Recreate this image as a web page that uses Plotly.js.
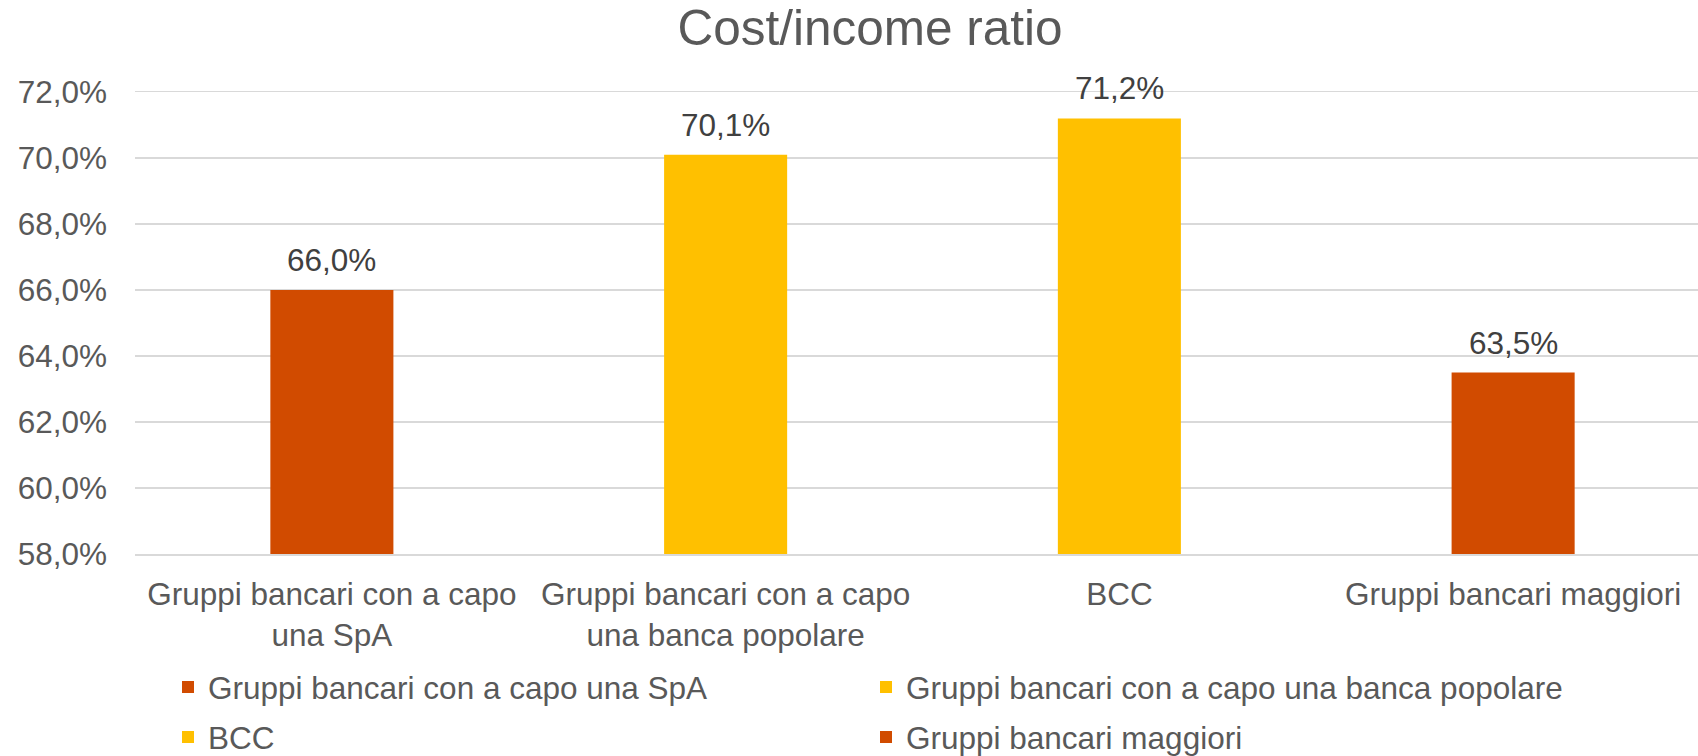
<!DOCTYPE html>
<html>
<head>
<meta charset="utf-8">
<script src="https://cdn.plot.ly/plotly-3.0.1.min.js"></script>
<style>
html, body { margin: 0; padding: 0; overflow: hidden; background: #ffffff; }
#chart { width: 1740px; height: 756px; }
</style>
</head>
<body>
<div id="chart"></div>
<script>
// Data
const categories = [
  "Gruppi bancari con a capo una SpA",
  "Gruppi bancari con a capo una banca popolare",
  "BCC",
  "Gruppi bancari maggiori"
];
const tickLabels = [
  "Gruppi bancari con a capo<br>una SpA",
  "Gruppi bancari con a capo<br>una banca popolare",
  "BCC",
  "Gruppi bancari maggiori"
];
const values = [0.660, 0.701, 0.712, 0.635];
const barColors = ["#D14B00", "#FFC000", "#FFC000", "#D14B00"];
const legendRow = ["legend", "legend", "legend2", "legend2"];

const FONT = "Liberation Sans, Arial, sans-serif";

const traces = categories.map((c, i) => ({
  type: "bar",
  x: [c],
  y: [values[i]],
  name: c,
  legend: legendRow[i],
  width: 0.3125,
  marker: { color: barColors[i], line: { width: 0 } },
  hoverinfo: "skip"
}));

const annotations = categories.map((c, i) => ({
  x: c,
  y: values[i],
  xref: "x",
  yref: "y",
  text: (values[i] * 100).toFixed(1).replace(".", ",") + "%",
  showarrow: false,
  yanchor: "bottom",
  yshift: 10,
  font: { family: FONT, size: 31.5, color: "#404040" }
}));

const legendBase = {
  orientation: "h",
  xref: "container",
  yref: "container",
  x: 168 / 1740,
  xanchor: "left",
  yanchor: "top",
  entrywidth: 653,
  entrywidthmode: "pixels",
  font: { family: FONT, size: 31.5, color: "#595959" },
  bgcolor: "rgba(0,0,0,0)",
  traceorder: "normal",
  itemclick: false
};

const layout = {
  width: 1740,
  height: 756,
  separators: ", ",
  paper_bgcolor: "#ffffff",
  plot_bgcolor: "#ffffff",
  margin: { l: 135, r: 30, t: 92, b: 202, pad: 0 },
  barmode: "overlay",
  title: {
    text: "Cost/income ratio",
    font: { family: FONT, size: 49.5, color: "#595959" },
    x: 0.5,
    xref: "container",
    y: 1 - 28 / 756,
    yref: "container",
    yanchor: "middle",
    pad: { t: 0, b: 0 }
  },
  xaxis: {
    type: "category",
    categoryorder: "array",
    categoryarray: categories,
    tickvals: categories,
    ticktext: tickLabels,
    tickfont: { family: FONT, size: 31.5, color: "#595959" },
    showgrid: false,
    showline: true,
    mirror: true,
    linecolor: "#D9D9D9",
    linewidth: 1.5,
    zeroline: false,
    ticks: "",
    ticklabelstandoff: 12,
    range: [-0.5, 3.5]
  },
  yaxis: {
    range: [0.58, 0.72],
    dtick: 0.02,
    tick0: 0.58,
    tickformat: ".1%",
    tickfont: { family: FONT, size: 31.5, color: "#595959" },
    showgrid: true,
    gridcolor: "#D9D9D9",
    gridwidth: 1.5,
    zeroline: false,
    showline: false,
    ticks: "",
    ticklabelstandoff: 27
  },
  showlegend: true,
  legend: Object.assign({}, legendBase, { y: 1 - 660 / 756 }),
  legend2: Object.assign({}, legendBase, { y: 1 - 710 / 756 }),
  annotations: annotations
};

Plotly.newPlot("chart", traces, layout, { displayModeBar: false, staticPlot: true });
</script>
</body>
</html>
